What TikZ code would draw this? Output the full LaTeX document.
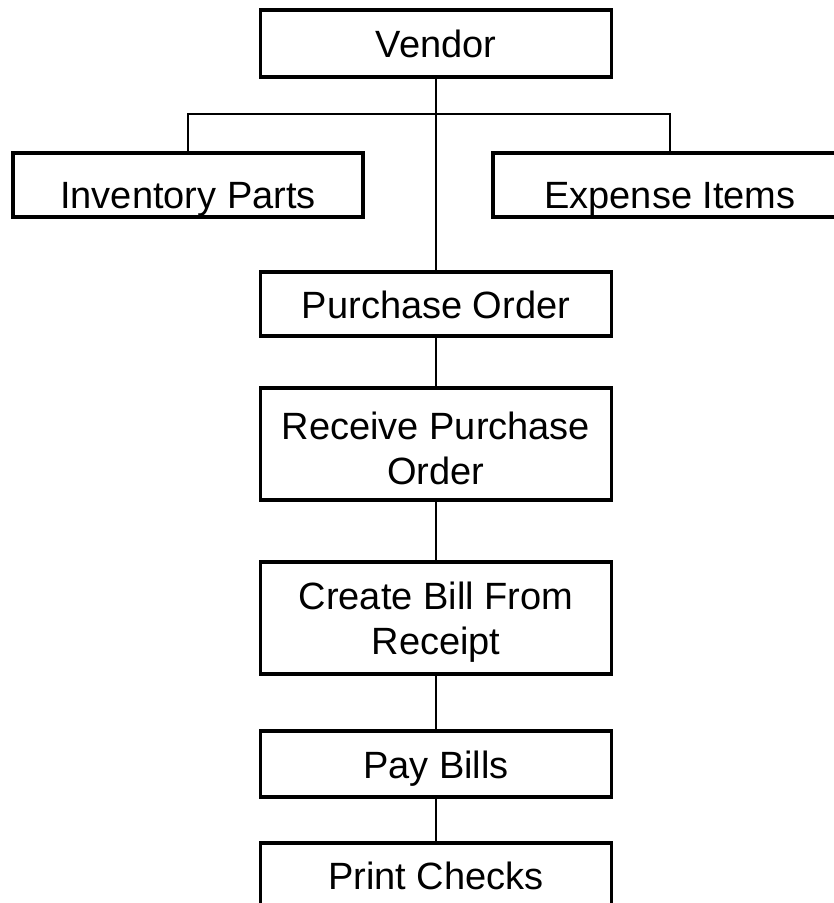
\documentclass[tikz,border=0pt]{standalone}
\usepackage{fontspec}
\setmainfont{Liberation Sans}
\begin{document}
\begin{tikzpicture}[x=1pt,y=-1pt,
  box/.style={draw=black, line width=3.3pt, rectangle, inner sep=0pt, outer sep=0pt,
    minimum width=351pt},
  txt/.style={inner sep=0pt, align=center, font=\fontsize{38pt}{45pt}\selectfont},
  one/.style={txt, text height=27.2pt, text depth=0pt},
  link/.style={draw=black, line width=1.2pt}]
\useasboundingbox (0,0) rectangle (834,903);
% boxes
\node[box, minimum height=67pt] (vendor) at (436,43.5) {};
\node[box, minimum height=64pt, minimum width=350pt] (inv) at (188,185) {};
\node[box, minimum height=64pt, minimum width=354pt] (exp) at (670,185) {};
\node[box, minimum height=64pt] (po) at (436,304) {};
\node[box, minimum height=112pt] (recv) at (436,444) {};
\node[box, minimum height=112pt] (bill) at (436,618) {};
\node[box, minimum height=66pt] (pay) at (436,764) {};
\node[box, minimum height=66pt] (print) at (436,876) {};
% texts
\node[one] (tvendor) at (vendor.center) {Vendor};
\node[one] (tinv) at ([yshift=-10pt]inv.center) {Inventory Parts};
\node[one] (texp) at ([yshift=-9.5pt]exp.center) {Expense Items};
\node[one] (tpo) at ([yshift=-1pt]po.center) {Purchase Order};
\node[txt] (trecv) at ([yshift=-4pt]recv.center) {Receive Purchase\\Order};
\node[txt] (tbill) at ([yshift=-4.5pt]bill.center) {Create Bill From\\Receipt};
\node[one] (tpay) at ([yshift=-0.5pt]pay.center) {Pay Bills};
\node[one] (tprint) at (print.center) {Print Checks};
% connectors
\coordinate (bus) at (436,114);
\draw[link] (vendor.south) -- (po.north);
\draw[link] (inv.north) |- (bus) -| (exp.north);
\draw[link] (po.south) -- (recv.north);
\draw[link] (recv.south) -- (bill.north);
\draw[link] (bill.south) -- (pay.north);
\draw[link] (pay.south) -- (print.north);
\end{tikzpicture}
\end{document}
